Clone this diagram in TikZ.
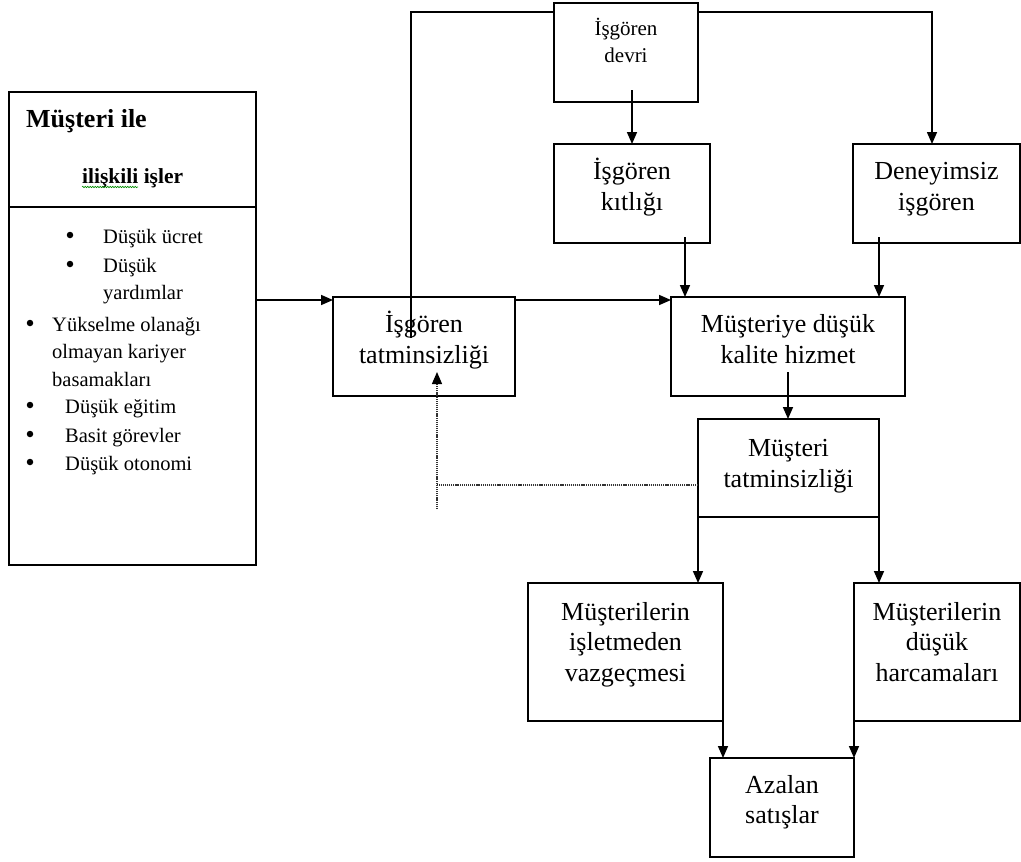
\documentclass[tikz,border=0pt]{standalone}
\usepackage{fontspec}
\setmainfont{Liberation Serif}
\usetikzlibrary{arrows.meta,calc,decorations.pathmorphing}
% font sizes used in the chart
\newcommand\bigfont{\fontsize{26}{30.5}\selectfont}
\newcommand\smallfont{\fontsize{21}{27}\selectfont}
\newcommand\listfont{\fontsize{20.5}{27}\selectfont}
% extra depth under the last line, lifts the text inside a box
\newcommand\boxend[1]{\rule[-#1]{0pt}{0pt}}
\begin{document}
\begin{tikzpicture}[x=1pt,y=-1pt,
  box/.style={draw, line width=1.5pt, inner sep=0pt, outer sep=0pt, align=center, font=\bigfont},
  link/.style={line width=1.6pt},
  arr/.style={line width=1.6pt, -{Triangle[length=12pt,width=10pt]}},
  fb/.style={line width=1.3pt, black!80, dash pattern=on 1.2pt off 0.9pt},
  item/.style={anchor=base west, inner sep=0pt, font=\listfont},
  dotitem/.style={circle, fill, inner sep=0pt, minimum size=6.5pt}]
\useasboundingbox (0,0) rectangle (1021,862);

% ---- boxes of the chain ----
\node[box, minimum width=144pt, minimum height=99pt, font=\smallfont] (devri) at (626,52.5)
  {\strut İşgören\\\strut devri\boxend{25pt}};
\node[box, minimum width=156pt, minimum height=99pt] (kit) at (632,193.5)
  {\strut İşgören\\\strut kıtlığı\boxend{18pt}};
\node[box, minimum width=167pt, minimum height=99pt] (deney) at (936.5,193.5)
  {\strut Deneyimsiz\\\strut işgören\boxend{18pt}};
\node[box, minimum width=182pt, minimum height=99pt] (tatm1) at (424,346.5)
  {\strut İşgören\\\strut tatminsizliği\boxend{18pt}};
\node[box, minimum width=234pt, minimum height=99pt] (kalite) at (788,346.5)
  {\strut Müşteriye düşük\\\strut kalite hizmet\boxend{18pt}};
\node[box, minimum width=181pt, minimum height=98pt] (tatm2) at (788.5,468)
  {\strut Müşteri\\\strut tatminsizliği\boxend{13pt}};
\node[box, minimum width=195pt, minimum height=138pt] (vazgec) at (625.5,652)
  {\strut Müşterilerin\\\strut işletmeden\\\strut vazgeçmesi\boxend{24pt}};
\node[box, minimum width=166pt, minimum height=138pt] (harc) at (937,652)
  {\strut Müşterilerin\\\strut düşük\\\strut harcamaları\boxend{24pt}};
\node[box, minimum width=144pt, minimum height=99pt] (azalan) at (782,807.5)
  {\strut Azalan\\\strut satışlar\boxend{19.5pt}};

% ---- job features box ----
\node[box, minimum width=247pt, minimum height=473pt] (jobs) at (132.5,328.5) {};
\coordinate (div) at (0,207);
\draw[line width=1.5pt] (jobs.west |- div) -- (jobs.east |- div);
\node[anchor=base west, inner sep=0pt, font=\fontsize{26}{30}\selectfont\bfseries] (t1) at (26,127) {Müşteri ile};
\node[anchor=base west, inner sep=0pt, font=\fontsize{21.5}{26}\selectfont\bfseries] (t2) at (82,183) {ilişkili işler};
\draw[green!55!black, line width=0.6pt, decorate, decoration={snake, amplitude=0.7pt, segment length=2.5pt}]
  ([yshift=-4pt]t2.base west) -- ++(56,0);

\node[dotitem] (b1) at (70,235) {};
\node[item] (l1) at (103,243) {Düşük ücret};
\node[dotitem] (b2) at (70,264) {};
\node[item] (l2) at (103,272) {Düşük};
\node[item] (l2b) at (103,299) {yardımlar};
\node[dotitem] (b3) at (30,323) {};
\node[item] (l3) at (52,331) {Yükselme olanağı};
\node[item] (l3b) at (52,358) {olmayan kariyer};
\node[item] (l3c) at (52,386) {basamakları};
\node[dotitem] (b4) at (30,405) {};
\node[item] (l4) at (65,413) {Düşük eğitim};
\node[dotitem] (b5) at (30,434) {};
\node[item] (l5) at (65,442) {Basit görevler};
\node[dotitem] (b6) at (30,462) {};
\node[item] (l6) at (65,470) {Düşük otonomi};

% ---- connectors ----
\coordinate (topy) at (0,12);
\coordinate (j1) at ($(tatm1.north west)+(0,3)$);
\draw[arr] (jobs.east |- j1) -- (j1);
\coordinate (j2) at ($(kalite.north west)+(0,3)$);
\draw[arr] (tatm1.east |- j2) -- (j2);

% loop over the top, from staff dissatisfaction through turnover
\coordinate (lp) at ($(tatm1.north west)+(78,41)$);
\draw[link] (lp) |- (devri.west |- topy);
\draw[arr] (devri.east |- topy) -| ([xshift=-4.5pt]deney.north);

\coordinate (d0) at ($(devri.south)+(0,-12)$);
\draw[arr] (kit.north |- d0) -- (kit.north);
\coordinate (k0) at ($(kit.south east)+(-25,-6)$);
\draw[arr] (k0) -- (k0 |- kalite.north);
\coordinate (n0) at ($(deney.south west)+(26,-6)$);
\draw[arr] (n0) -- (n0 |- kalite.north);
\coordinate (q0) at ($(kalite.south)+(0,-24)$);
\draw[arr] (q0) -- (q0 |- tatm2.north);

\draw[arr] (tatm2.south west) -- (tatm2.south west |- vazgec.north);
\draw[arr] (tatm2.south east) -- (tatm2.south east |- harc.north);
\draw[arr] (vazgec.south east) -- (vazgec.south east |- azalan.north);
\draw[arr] (harc.south west) -- (harc.south west |- azalan.north);

% dotted feedback from customer dissatisfaction
\coordinate (fbc) at (437,485);
\coordinate (fb0) at (437,509);
\coordinate (fbt) at ($(tatm1.south)+(13,-24)$);
\draw[fb] (tatm2.west |- fbc) -- (fbc);
\draw[fb, -{Triangle[length=12pt,width=10pt,color=black]}] (fb0) -- (fbt);
\end{tikzpicture}
\end{document}
